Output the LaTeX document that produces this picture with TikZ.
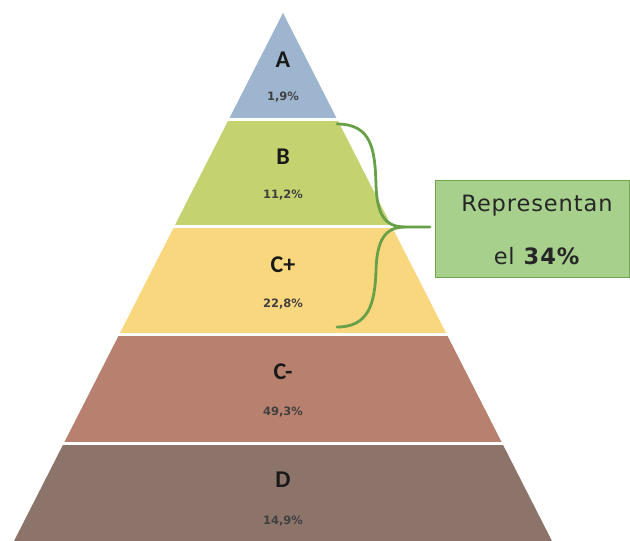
\documentclass[tikz,border=0pt]{standalone}
\usepackage{fontspec}
\setmainfont{DejaVu Sans}
\newfontfamily\lvlfont{Carlito}
\newfontfamily\callfont[LetterSpace=4]{DejaVu Sans}
\begin{document}
\begin{tikzpicture}[x=1pt,y=-1pt,
  lvl/.style={font=\lvlfont\bfseries\fontsize{24}{28}\selectfont, text=black!90},
  pct/.style={font=\bfseries\fontsize{11.5}{13}\selectfont, text=black!75},
  calltext/.style={font=\callfont\fontsize{22.5}{26}\selectfont, text=black!85}]
\definecolor{cA}{RGB}{157,181,206}
\definecolor{cB}{RGB}{196,211,112}
\definecolor{cC}{RGB}{249,215,126}
\definecolor{cCm}{RGB}{184,128,110}
\definecolor{cD}{RGB}{141,116,106}
\definecolor{boxfill}{RGB}{168,208,141}
\definecolor{boxline}{RGB}{112,168,80}
\definecolor{bracecol}{RGB}{104,160,72}
\useasboundingbox (0,0) rectangle (630,541);
\fill[white] (0,0) rectangle (630,541);
% pyramid bands
\foreach \ya/\yb/\col in {13/117/cA, 121/224/cB, 228/332/cC, 336/441/cCm, 445/541/cD}{
  \begin{scope}
    \clip (0,\ya) rectangle (630,\yb);
    \fill[\col] (283,13) -- (13,543) -- (553,543) -- cycle;
  \end{scope}
}
% labels
\node[lvl] (lA) at (283,60) {A};
\node[pct] (pA) at (283,97) {1,9\%};
\node[lvl] (lB) at (283,157) {B};
\node[pct] (pB) at (283,195) {11,2\%};
\node[lvl] (lC) at (283,265) {C+};
\node[pct] (pC) at (283,304) {22,8\%};
\node[lvl] (lCm) at (283,372) {C-};
\node[pct] (pCm) at (283,412) {49,3\%};
\node[lvl] (lD) at (283,480) {D};
\node[pct] (pD) at (283,521) {14,9\%};
% brace
\draw[bracecol, line width=2.8pt, line cap=round]
  (337,124) .. controls (372,124) and (375,150) .. (376,185)
  .. controls (377,215) and (385,227) .. (405,227) -- (430,227);
\draw[bracecol, line width=2.8pt, line cap=round]
  (405,227) .. controls (385,227) and (377,240) .. (376,270)
  .. controls (375,305) and (368,327) .. (337,327);
% callout box
\draw[boxline, fill=boxfill, line width=1pt] (435,180) rectangle (629.5,277);
\node[calltext] (r1) at (537,206) {Representan};
\node[calltext] (r2) at (537,256) {el \textbf{34\%}};
\end{tikzpicture}
\end{document}
